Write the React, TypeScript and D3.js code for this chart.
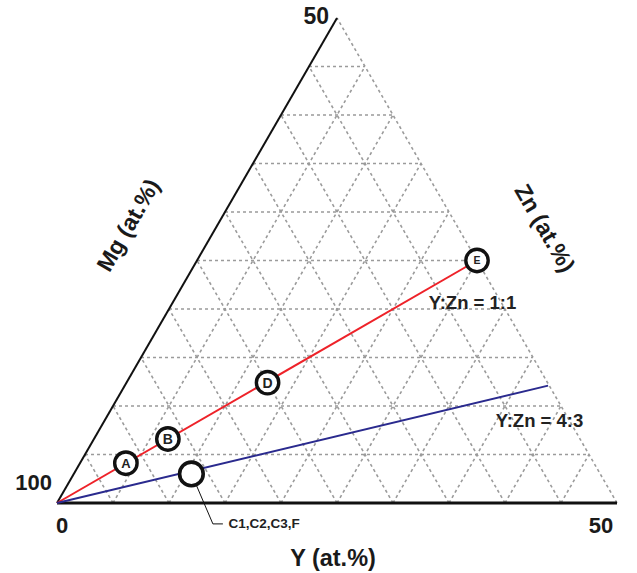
import * as d3 from 'd3'

// compositions in at.% (Mg is the balance)
const markLabels = ['A', 'B', 'D', 'E']
const markY = [4.1, 6.6, 12.6, 25]
const markZn = [4.1, 6.6, 12.4, 25]

const openLabel = 'C1,C2,C3,F'
const openY = 10.5
const openZn = 3.0

const ratioNames = ['Y:Zn = 1:1', 'Y:Zn = 4:3']
const ratioEndY = [25, 37.8]
const ratioEndZn = [25, 12.1]
const ratioColors = ['#ee2229', '#2a2a8e']

const gridSteps = [5, 10, 15, 20, 25, 30, 35, 40, 45]

const W = 637
const H = 573
const FONT = '"Liberation Sans", Arial, sans-serif'

export default function App() {
  // Y + Zn/2 along the bottom, Zn upwards
  const x = d3.scaleLinear().domain([0, 50]).range([57, 617])
  const y = d3.scaleLinear().domain([0, 50]).range([503, 18])
  const px = (Y: number, Zn: number) => x(Y + Zn / 2)
  const py = (Y: number, Zn: number) => y(Zn)
  const line = d3.line<[number, number]>().x(d => px(d[0], d[1])).y(d => py(d[0], d[1]))

  const grid: [number, number][][] = []
  gridSteps.forEach(v => {
    grid.push([[0, v], [50 - v, v]]) // Zn const
    grid.push([[v, 0], [v, 50 - v]]) // Y const
    grid.push([[v, 0], [0, v]]) // Mg const
  })
  grid.push([[50, 0], [0, 50]]) // Mg = 50 edge

  const c = { x: px(openY, openZn), y: py(openY, openZn) }
  const markFont = [13, 14, 14, 10.5]

  return (
    <svg width={W} height={H} style={{ position: 'absolute', left: 0, top: 0, background: '#fff' }} fontFamily={FONT}>
      <g fill="none" stroke="#9b9b9b" strokeWidth={1.6} strokeDasharray="3 3">
        {grid.map((g, i) => <path key={i} d={line(g) || ''} />)}
      </g>
      <path d={line([[0, 0], [0, 50]]) || ''} stroke="#111" strokeWidth={2} fill="none" />
      <path d={line([[0, 0], [50, 0]]) || ''} stroke="#111" strokeWidth={3} fill="none" />

      {ratioNames.map((n, i) => (
        <path key={n} d={line([[0, 0], [ratioEndY[i], ratioEndZn[i]]]) || ''} stroke={ratioColors[i]} strokeWidth={2} fill="none" />
      ))}

      <text x={472.5} y={308.5} textAnchor="middle" fontWeight="bold" fontSize={18.5} fill="#222">{ratioNames[0]}</text>
      <text x={539.5} y={427} textAnchor="middle" fontWeight="bold" fontSize={18.5} fill="#222">{ratioNames[1]}</text>

      <path d={`M${c.x + 1},${c.y + 2} L${c.x + 21.5},${c.y + 50} L${c.x + 31.5},${c.y + 50}`} stroke="#111" strokeWidth={1} fill="none" />
      <circle cx={c.x} cy={c.y} r={11.8} fill="#fff" stroke="#111" strokeWidth={3.6} />
      <text x={c.x + 37} y={c.y + 54} fontWeight="bold" fontSize={13.5} fill="#222">{openLabel}</text>

      {markLabels.map((l, i) => (
        <g key={l} transform={`translate(${px(markY[i], markZn[i])},${py(markY[i], markZn[i])})`}>
          <circle r={11.2} fill="#fff" stroke="#111" strokeWidth={3.4} />
          <text y={markFont[i] * 0.36} textAnchor="middle" fontWeight="bold" fontSize={markFont[i]} fill="#222">{l}</text>
        </g>
      ))}

      <g fontWeight="bold" fill="#1a1a1a">
        <text x={329} y={23.5} textAnchor="end" fontSize={23}>50</text>
        <text x={52} y={489.5} textAnchor="end" fontSize={22}>100</text>
        <text x={62} y={533} textAnchor="middle" fontSize={22}>0</text>
        <text x={601} y={532.5} textAnchor="middle" fontSize={22}>50</text>
        <text x={333} y={566} textAnchor="middle" fontSize={23.5}>Y (at.%)</text>
        <text transform="translate(135,229) rotate(-60)" textAnchor="middle" fontSize={23}>Mg (at.%)</text>
        <text transform="translate(538,232) rotate(60)" textAnchor="middle" fontSize={23}>Zn (at.%)</text>
      </g>
    </svg>
  )
}
